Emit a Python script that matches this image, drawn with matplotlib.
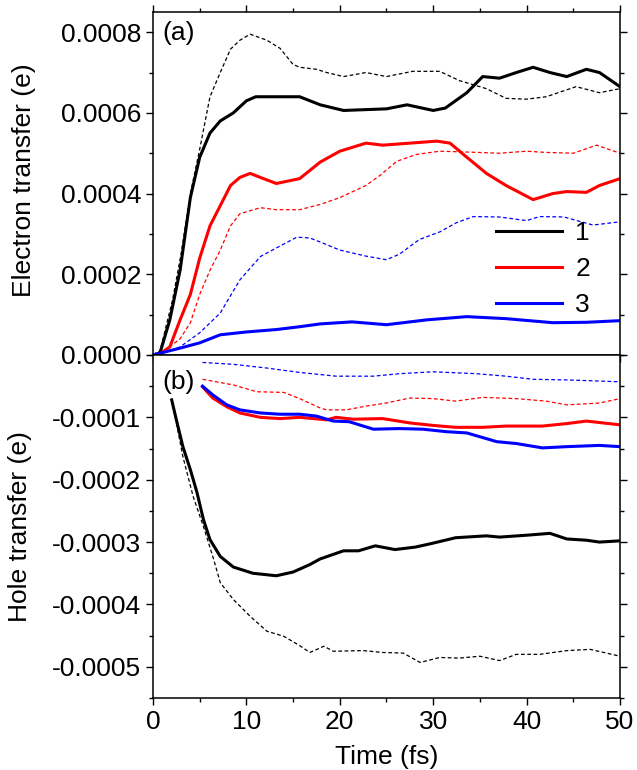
import numpy as np
import matplotlib.pyplot as plt
from matplotlib.ticker import MultipleLocator, FormatStrFormatter

plt.rcParams['font.family'] = ['Liberation Sans', 'DejaVu Sans']
plt.rcParams['font.size'] = 19

# ---- (a) electron transfer ----
t_e1 = [0, 0.75, 1.8, 2.9, 4.0, 5.0, 6.1, 7.2, 8.6, 10.0, 11.0, 12.9, 15.7, 17.9, 20.4, 25.0, 27.2,
        30.0, 31.3, 33.6, 35.3, 37.1, 38.9, 40.7, 42.5, 44.3, 46.4, 47.8, 50.0]
e1 = [0, 0.000005, 0.000087, 0.00021, 0.00039, 0.00049, 0.00055, 0.00058, 0.0006, 0.00063, 0.00064,
      0.00064, 0.00064, 0.00062, 0.000606, 0.00061, 0.00062, 0.000606, 0.000612, 0.00065, 0.00069,
      0.000686, 0.0007, 0.000713, 0.0007, 0.00069, 0.000708, 0.0007, 0.000665]
t_e1d = [0, 0.75, 2.1, 3.0, 4.0, 5.0, 6.1, 7.2, 8.3, 9.3, 10.4, 12.2, 13.6, 15.0, 15.7, 17.5, 18.6,
         20.4, 22.8, 25.0, 27.8, 30.7, 32.8, 35.7, 37.8, 40.0, 42.1, 45.3, 47.8, 50.0]
e1d = [0, 0.00001, 0.000137, 0.00025, 0.0004, 0.00051, 0.00064, 0.0007, 0.000758, 0.00078, 0.000795,
       0.00078, 0.00076, 0.00072, 0.000713, 0.000708, 0.0007, 0.00069, 0.0007, 0.00069, 0.000703,
       0.000703, 0.00068, 0.00066, 0.000636, 0.000634, 0.00064, 0.000665, 0.00065, 0.00066]
t_e2 = [0, 0.75, 1.8, 2.9, 4.0, 5.0, 6.1, 7.2, 8.3, 9.3, 10.4, 11.5, 13.2, 15.7, 17.9, 20.0, 22.8,
        24.6, 27.5, 30.4, 31.8, 33.6, 35.7, 37.8, 40.7, 42.8, 44.3, 46.4, 47.8, 50.0]
e2 = [0, 0.000003, 0.00002, 0.000087, 0.00015, 0.00024, 0.00032, 0.00037, 0.00042, 0.00044, 0.00045,
      0.00044, 0.000425, 0.000437, 0.000478, 0.000505, 0.000525, 0.00052, 0.000525, 0.00053, 0.000525,
      0.00049, 0.00045, 0.00042, 0.000385, 0.0004, 0.000405, 0.000403, 0.00042, 0.000437]
t_e2d = [0, 0.75, 2.9, 4.0, 5.0, 6.1, 7.2, 8.3, 9.3, 11.5, 13.2, 15.7, 17.9, 20.0, 22.8, 24.3, 26.1,
         28.2, 30.7, 33.6, 37.1, 40.0, 42.1, 45.0, 47.5, 50.0]
e2d = [0, 0.000002, 0.00004, 0.00008, 0.00015, 0.00021, 0.00026, 0.00032, 0.00035, 0.000365, 0.00036,
       0.00036, 0.000373, 0.00039, 0.00042, 0.000445, 0.00048, 0.000497, 0.000505, 0.000503, 0.0005,
       0.000505, 0.000502, 0.0005, 0.00052, 0.0005]
t_e3 = [0, 2.9, 5.0, 7.2, 10.0, 13.2, 15.7, 17.9, 21.3, 25.0, 29.3, 33.6, 37.8, 42.8, 46.4, 50.0]
e3 = [0, 0.000017, 0.00003, 0.00005, 0.000057, 0.000063, 0.00007, 0.000077, 0.000082, 0.000075,
      0.000087, 0.000095, 0.00009, 0.00008, 0.000081, 0.000085]
t_e3d = [0, 0.75, 2.9, 5.0, 7.2, 9.3, 11.5, 13.6, 15.4, 16.8, 17.9, 20.0, 22.8, 25.0, 26.4, 28.5,
         30.7, 32.5, 34.3, 37.1, 40.0, 41.4, 44.0, 47.1, 50.0]
e3d = [0, 0.000002, 0.00002, 0.000055, 0.000104, 0.000186, 0.000244, 0.00027, 0.000292, 0.00029,
       0.00028, 0.00026, 0.000245, 0.000236, 0.00025, 0.000286, 0.000305, 0.000328, 0.000343,
       0.000342, 0.000333, 0.000343, 0.000342, 0.000322, 0.00033]

# ---- (b) hole transfer ----
t_h1 = [2.0, 2.5, 3.2, 4.0, 4.7, 5.4, 6.1, 7.2, 8.6, 10.7, 13.2, 15.0, 16.8, 17.9, 20.4, 22.0, 23.8,
        25.9, 28.1, 29.9, 32.4, 35.7, 37.1, 40.0, 42.5, 44.3, 46.4, 47.8, 50.0]
h1 = [-0.000072, -0.000104, -0.000147, -0.000184, -0.00022, -0.000264, -0.000296, -0.000323,
      -0.00034, -0.00035, -0.000354, -0.000348, -0.000336, -0.000327, -0.000314, -0.000314,
      -0.000306, -0.000312, -0.000308, -0.000302, -0.000293, -0.00029, -0.000292, -0.000289,
      -0.000286, -0.000295, -0.000297, -0.0003, -0.000298]
t_h1d = [2.0, 3.2, 4.3, 5.4, 6.5, 7.2, 8.6, 10.4, 12.2, 14.0, 15.7, 16.8, 18.3, 19.3, 22.5, 24.6,
         26.8, 28.6, 30.7, 32.8, 35.0, 37.1, 38.9, 41.4, 44.3, 46.8, 50.0]
h1d = [-0.00007, -0.000163, -0.000227, -0.000275, -0.000328, -0.000365, -0.000392, -0.000419,
       -0.000443, -0.000451, -0.000466, -0.000477, -0.000467, -0.000475, -0.000474, -0.000477,
       -0.000478, -0.000493, -0.000485, -0.000486, -0.000483, -0.00049, -0.00048, -0.00048,
       -0.000474, -0.000472, -0.000483]
t_h2 = [5.3, 6.4, 7.9, 9.3, 11.5, 13.6, 15.7, 18.6, 19.6, 21.4, 24.6, 27.5, 30.0, 32.4, 35.3, 37.8,
        41.7, 44.3, 46.4, 50.0]
h2 = [-0.000051, -0.000069, -0.000083, -0.000093, -0.0001, -0.000102, -0.0001, -0.000104, -0.0001,
      -0.000103, -0.000102, -0.000109, -0.000113, -0.000116, -0.000116, -0.000114, -0.000114,
      -0.00011, -0.000106, -0.000112]
t_h2d = [5.3, 8.6, 11.1, 14.0, 15.7, 17.9, 18.6, 20.7, 22.8, 25.0, 27.5, 30.0, 32.4, 35.3, 38.9,
         42.1, 44.3, 47.8, 50.0]
h2d = [-0.000039, -0.000048, -0.000059, -0.00006, -0.00007, -0.000085, -0.000088, -0.000088,
       -0.000082, -0.000077, -0.000069, -0.00007, -0.000074, -0.000068, -0.00007, -0.000074,
       -0.00008, -0.000077, -0.00007]
t_h3 = [5.3, 6.4, 7.9, 9.3, 11.5, 13.6, 15.7, 17.5, 19.3, 21.0, 23.6, 26.4, 28.9, 31.4, 33.6, 36.8,
        38.9, 41.7, 44.3, 47.8, 50.0]
h3 = [-0.00005, -0.000064, -0.00008, -0.000088, -0.000093, -0.000095, -0.000095, -0.000098,
      -0.000106, -0.000107, -0.000119, -0.000118, -0.000119, -0.000123, -0.000125, -0.000139,
      -0.000142, -0.000149, -0.000147, -0.000145, -0.000147]
t_h3d = [5.3, 8.6, 12.2, 15.7, 19.6, 23.6, 26.4, 30.0, 34.6, 37.8, 40.7, 44.3, 50.0]
h3d = [-0.000012, -0.000015, -0.000021, -0.000028, -0.000034, -0.000034, -0.00003, -0.000027,
       -0.00003, -0.000034, -0.000039, -0.00004, -0.000043]

lw_s = 2.2
lw_d = 0.9
dash = (3, 2)

fig = plt.figure(figsize=(6.37, 7.70), dpi=100)
ax1 = fig.add_axes([0.2402, 0.539, 0.7331, 0.4454])
ax2 = fig.add_axes([0.2402, 0.0935, 0.7331, 0.4455])

ax1.plot(t_e1d, e1d, color='black', lw=lw_d, dashes=dash)
ax1.plot(t_e2d, e2d, color='red', lw=lw_d, dashes=dash)
ax1.plot(t_e3d, e3d, color='blue', lw=lw_d, dashes=dash)
ax1.plot(t_e1, e1, color='black', lw=lw_s, label='1')
ax1.plot(t_e2, e2, color='red', lw=lw_s, label='2')
ax1.plot(t_e3, e3, color='blue', lw=lw_s, label='3')

ax2.plot(t_h1d, h1d, color='black', lw=lw_d, dashes=dash)
ax2.plot(t_h2d, h2d, color='red', lw=lw_d, dashes=dash)
ax2.plot(t_h3d, h3d, color='blue', lw=lw_d, dashes=dash)
ax2.plot(t_h1, h1, color='black', lw=lw_s)
ax2.plot(t_h2, h2, color='red', lw=lw_s)
ax2.plot(t_h3, h3, color='blue', lw=lw_s)

ax1.set_xlim(0, 50)
ax1.set_ylim(0, 0.00085)
ax1.set_yticks([0, 0.0002, 0.0004, 0.0006, 0.0008])
ax1.yaxis.set_minor_locator(MultipleLocator(0.0001))
ax1.yaxis.set_major_formatter(FormatStrFormatter('%.4f'))
ax1.tick_params(labelbottom=False)

ax2.set_xlim(0, 50)
ax2.set_ylim(-0.00055, 0)
ax2.set_yticks([-0.0005, -0.0004, -0.0003, -0.0002, -0.0001])
ax2.yaxis.set_minor_locator(MultipleLocator(0.00005))
ax2.yaxis.set_major_formatter(FormatStrFormatter('%.4f'))

for ax in (ax1, ax2):
    ax.xaxis.set_major_locator(MultipleLocator(10))
    ax.xaxis.set_minor_locator(MultipleLocator(5))
    ax.tick_params(which='both', direction='out', top=True, right=True, width=1.0)
    ax.tick_params(which='major', length=5)
    ax.tick_params(which='minor', length=3)
    for s in ax.spines.values():
        s.set_linewidth(1.1)
ax2.tick_params(which='both', top=False)

ax1.text(0.02, 0.975, '(a)', transform=ax1.transAxes, ha='left', va='top')
ax2.text(0.02, 0.955, '(b)', transform=ax2.transAxes, ha='left', va='top')

ax1.set_ylabel('Electron transfer (e)')
ax1.yaxis.set_label_coords(-0.25, 0.51)
ax2.set_ylabel('Hole transfer (e)')
ax2.yaxis.set_label_coords(-0.26, 0.5)
ax2.set_xlabel('Time (fs)', labelpad=8)

ax1.legend(loc='upper left', bbox_to_anchor=(0.735, 0.39), frameon=False, borderpad=0,
           borderaxespad=0, handlelength=2.5, handletextpad=0.5, labelspacing=0.45)

fig.savefig('out.png', dpi=100)
